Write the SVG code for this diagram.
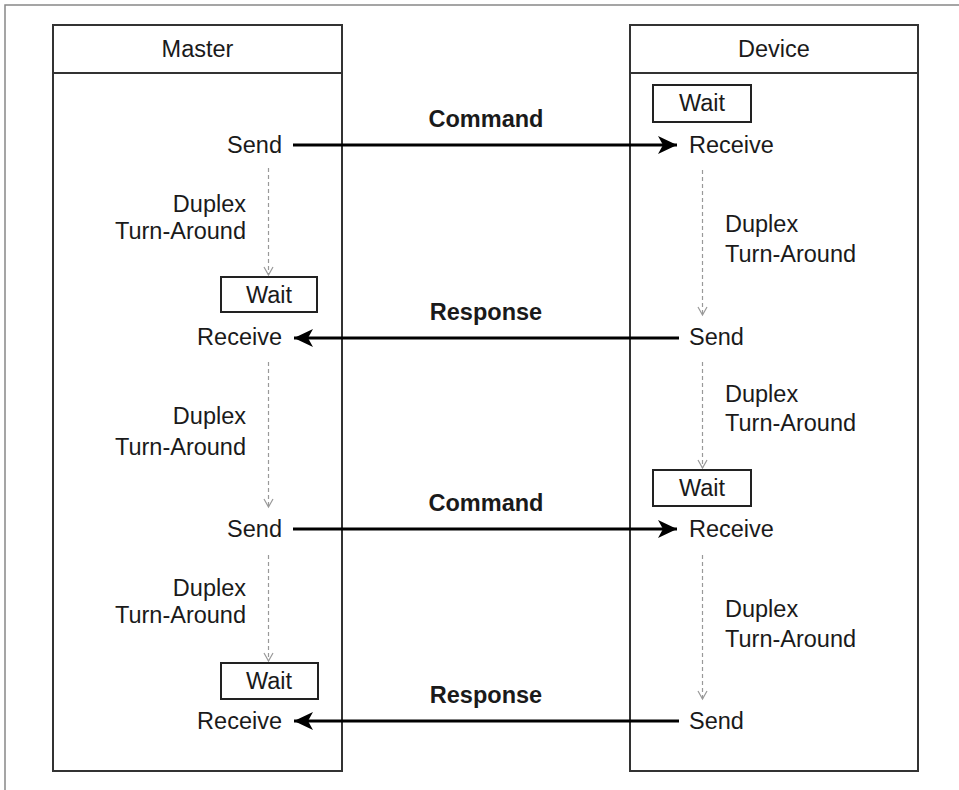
<svg xmlns="http://www.w3.org/2000/svg" width="959" height="790" viewBox="0 0 959 790">
<style>
text{font-family:"Liberation Sans",Arial,sans-serif;font-size:23.5px;fill:#1a1a1a}
.b{font-weight:bold}
.c{text-anchor:middle}
.e{text-anchor:end}
.lane{fill:#fff;stroke:#333;stroke-width:2}
.wait{fill:#fff;stroke:#222;stroke-width:2}
.msg{stroke:#000;stroke-width:3;fill:none}
.dash{stroke:#999;stroke-width:1.2;stroke-dasharray:4 3;fill:none}
.chev{stroke:#999;stroke-width:1.2;fill:none}
</style>
<defs>
<marker id="ah" markerUnits="userSpaceOnUse" markerWidth="22" markerHeight="20" refX="19" refY="9" orient="auto">
<path d="M0,0 L19,9 L0,18 L5,9 Z" fill="#000"/>
</marker>
</defs>
<rect width="959" height="790" fill="#fff"/>
<path d="M5,790 V5 H959" fill="none" stroke="#888" stroke-width="1.5"/>
<g id="master">
<rect class="lane" x="53" y="25" width="289" height="746"/>
<line x1="53" y1="73" x2="342" y2="73" stroke="#333" stroke-width="2"/>
<text class="c" x="197.5" y="57">Master</text>
</g>
<g id="device">
<rect class="lane" x="630" y="25" width="288" height="746"/>
<line x1="630" y1="73" x2="918" y2="73" stroke="#333" stroke-width="2"/>
<text class="c" x="774" y="57">Device</text>
</g>
<g id="master-send-1"><text class="e" x="282" y="153">Send</text></g>
<g id="master-wait-1"><rect class="wait" x="221" y="277" width="96" height="35"/><text class="c" x="269" y="303">Wait</text></g>
<g id="master-receive-1"><text class="e" x="282" y="345">Receive</text></g>
<g id="master-send-2"><text class="e" x="282" y="537">Send</text></g>
<g id="master-wait-2"><rect class="wait" x="221" y="663" width="97" height="36"/><text class="c" x="269" y="689">Wait</text></g>
<g id="master-receive-2"><text class="e" x="282" y="729">Receive</text></g>
<g id="device-wait-1"><rect class="wait" x="653" y="85" width="98" height="37"/><text class="c" x="702" y="111">Wait</text></g>
<g id="device-receive-1"><text x="689" y="153">Receive</text></g>
<g id="device-send-1"><text x="689" y="345">Send</text></g>
<g id="device-wait-2"><rect class="wait" x="653" y="470" width="98" height="36"/><text class="c" x="702" y="496">Wait</text></g>
<g id="device-receive-2"><text x="689" y="537">Receive</text></g>
<g id="device-send-2"><text x="689" y="729">Send</text></g>
<g id="connectors">
<line class="msg" x1="293" y1="145" x2="677" y2="145" marker-end="url(#ah)"/>
<line class="msg" x1="679" y1="338" x2="294" y2="338" marker-end="url(#ah)"/>
<line class="msg" x1="293" y1="529" x2="677" y2="529" marker-end="url(#ah)"/>
<line class="msg" x1="679" y1="721" x2="294" y2="721" marker-end="url(#ah)"/>
<text class="b c" x="486" y="127">Command</text>
<text class="b c" x="486" y="320">Response</text>
<text class="b c" x="486" y="511">Command</text>
<text class="b c" x="486" y="703">Response</text>
<line class="dash" x1="268.5" y1="168" x2="268.5" y2="275"/>
<path class="chev" d="M264,267 L268.5,275 L273,267"/>
<line class="dash" x1="268.5" y1="362" x2="268.5" y2="507"/>
<path class="chev" d="M264,499 L268.5,507 L273,499"/>
<line class="dash" x1="268.5" y1="555" x2="268.5" y2="661"/>
<path class="chev" d="M264,653 L268.5,661 L273,653"/>
<line class="dash" x1="702.5" y1="170" x2="702.5" y2="315"/>
<path class="chev" d="M698,307 L702.5,315 L707,307"/>
<line class="dash" x1="702.5" y1="362" x2="702.5" y2="468"/>
<path class="chev" d="M698,460 L702.5,468 L707,460"/>
<line class="dash" x1="702.5" y1="555" x2="702.5" y2="699"/>
<path class="chev" d="M698,691 L702.5,699 L707,691"/>
<text class="e" x="246" y="212">Duplex</text>
<text class="e" x="246" y="239">Turn-Around</text>
<text class="e" x="246" y="424">Duplex</text>
<text class="e" x="246" y="455">Turn-Around</text>
<text class="e" x="246" y="596">Duplex</text>
<text class="e" x="246" y="623">Turn-Around</text>
<text x="725" y="232">Duplex</text>
<text x="725" y="262">Turn-Around</text>
<text x="725" y="402">Duplex</text>
<text x="725" y="431">Turn-Around</text>
<text x="725" y="617">Duplex</text>
<text x="725" y="647">Turn-Around</text>
</g>
</svg>
